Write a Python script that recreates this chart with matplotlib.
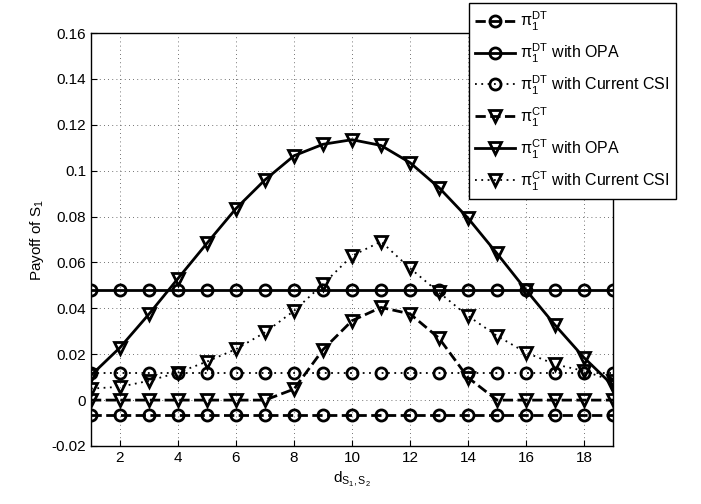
import numpy as np
import matplotlib
matplotlib.use("Agg")
import matplotlib.pyplot as plt
from matplotlib.ticker import FuncFormatter

plt.rcParams["font.family"] = ["Liberation Sans", "DejaVu Sans"]
plt.rcParams["mathtext.fontset"] = "custom"
plt.rcParams["mathtext.rm"] = "Liberation Sans"
plt.rcParams["mathtext.it"] = "Liberation Sans"
plt.rcParams["mathtext.bf"] = "Liberation Sans:bold"

distance = list(range(1, 20))

dt_payoff = [-0.0067] * 19
dt_opa = [0.048] * 19
dt_csi = [0.012] * 19

ct_payoff = [0, 0, 0, 0, 0, 0, 0, 0.0048, 0.022, 0.0346, 0.0404, 0.0376, 0.027,
             0.0098, 0, 0, 0, 0, 0]
ct_opa = [0.0108, 0.0229, 0.0375, 0.053, 0.0684, 0.0835, 0.096, 0.1065, 0.1115,
          0.1135, 0.111, 0.1035, 0.0926, 0.0793, 0.0639, 0.048, 0.0327, 0.0185, 0.0063]
ct_csi = [0.005, 0.0058, 0.0084, 0.012, 0.0168, 0.0222, 0.0295, 0.0389, 0.0505,
          0.0629, 0.0691, 0.0575, 0.0469, 0.0367, 0.028, 0.0207, 0.0156, 0.0127, 0.0083]

labels = [r"$\pi_1^{DT}$", r"$\pi_1^{DT}$ with OPA", r"$\pi_1^{DT}$ with Current CSI",
          r"$\pi_1^{CT}$", r"$\pi_1^{CT}$ with OPA", r"$\pi_1^{CT}$ with Current CSI"]

fig = plt.figure(figsize=(7.01, 5.04), dpi=100)
ax = fig.add_axes([0.1298, 0.1151, 0.7447, 0.8194])

circ = dict(marker="o", ms=8, mfc="none", mec="black", mew=2, color="black")
tri = dict(marker="v", ms=9, mfc="none", mec="black", mew=2, color="black")
dotted = (0, (1, 2.5))

ax.plot(distance, dt_payoff, ls="--", lw=2, label=labels[0], **circ)
ax.plot(distance, dt_opa, ls="-", lw=2, label=labels[1], **circ)
ax.plot(distance, dt_csi, ls=dotted, lw=1.3, label=labels[2], **circ)
ax.plot(distance, ct_payoff, ls="--", lw=2, label=labels[3], **tri)
ax.plot(distance, ct_opa, ls="-", lw=2, label=labels[4], **tri)
ax.plot(distance, ct_csi, ls=dotted, lw=1.3, label=labels[5], **tri)

ax.set_xlim(1, 19)
ax.set_ylim(-0.02, 0.16)
ax.set_xticks(np.arange(2, 19, 2))
ax.set_yticks(np.arange(-0.02, 0.161, 0.02))
ax.yaxis.set_major_formatter(FuncFormatter(lambda v, p: "%g" % round(v, 4)))
ax.tick_params(direction="in", labelsize=11, length=4)
ax.grid(True, ls=(0, (1, 4)), color="#444444", lw=0.6)
for s in ax.spines.values():
    s.set_linewidth(1)

ax.set_xlabel(r"d$_{S_1,S_2}$", fontsize=11)
ax.set_ylabel(r"Payoff of S$_1$", fontsize=11)

leg = ax.legend(loc="upper right", bbox_to_anchor=(0.964, 0.994),
                bbox_transform=fig.transFigure, borderaxespad=0, fontsize=11.5,
                fancybox=False, framealpha=1, edgecolor="black", handlelength=2.5,
                labelspacing=0.55, handletextpad=0.3, borderpad=0.4)
leg.get_frame().set_linewidth(1)

fig.savefig("out.png", dpi=100)
